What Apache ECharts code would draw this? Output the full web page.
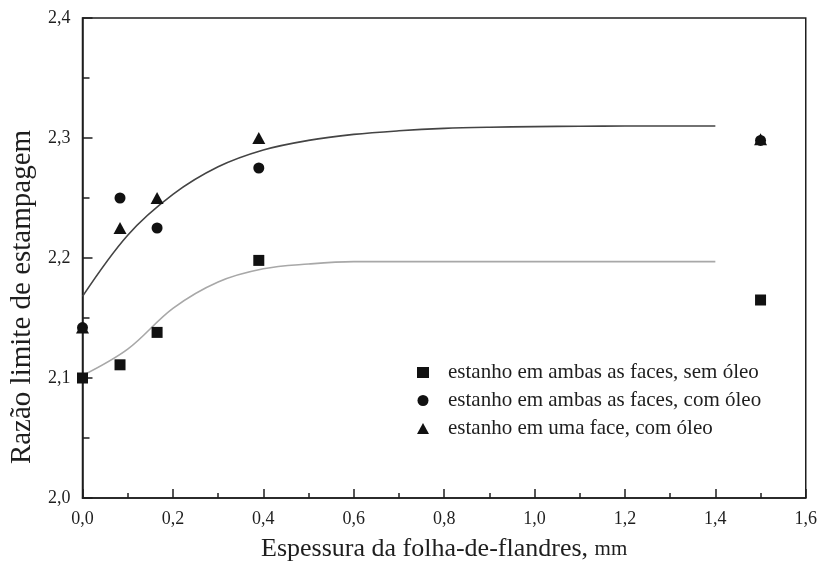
<!DOCTYPE html>
<html>
<head>
<meta charset="utf-8">
<script src="https://cdn.jsdelivr.net/npm/echarts@6/dist/echarts.min.js"></script>
<style>
  html, body { margin: 0; padding: 0; background: #fff; }
  #chart { width: 820px; height: 567px; }
</style>
</head>
<body>
<div id="chart"></div>
<script>
// Sheet thickness (mm) and limit drawing ratio measurements
const seriesNames = [
  'estanho em ambas as faces, sem óleo',
  'estanho em ambas as faces, com óleo',
  'estanho em uma face, com óleo'
];

const thicknessBoth = [0.0, 0.083, 0.165, 0.39, 1.5];
const ratioBothDry = [2.100, 2.111, 2.138, 2.198, 2.165];
const ratioBothOiled = [2.142, 2.250, 2.225, 2.275, 2.298];
const ratioOneOiled = [2.142, 2.225, 2.250, 2.300, 2.299];

// Fitted trend curves, sampled every 0.1 mm
const fitX = [0.0, 0.1, 0.2, 0.3, 0.4, 0.5, 0.6, 0.7, 0.8, 0.9, 1.0, 1.1, 1.2, 1.3, 1.4];
const fitUpperY = [2.168, 2.219, 2.253, 2.276, 2.290, 2.298, 2.303, 2.306, 2.308, 2.309, 2.3095, 2.3098, 2.310, 2.310, 2.310];
const fitLowerY = [2.102, 2.124, 2.158, 2.180, 2.191, 2.195, 2.197, 2.197, 2.197, 2.197, 2.197, 2.197, 2.197, 2.197, 2.197];

const xTicks = { min: 0, max: 1.6, interval: 0.2 };
const yTicks = { min: 2.0, max: 2.4, interval: 0.1 };

const pairs = (xs, ys) => xs.map((x, i) => [x, ys[i]]);
const comma = v => v.toFixed(1).replace('.', ',');

const FONT = '"Liberation Serif", "Times New Roman", serif';
const INK = '#1e1e1e';
const MARK = '#111111';

const chart = echarts.init(document.getElementById('chart'), null, { renderer: 'canvas' });

chart.setOption({
  animation: false,
  backgroundColor: '#ffffff',
  textStyle: { fontFamily: FONT, color: INK },
  grid: {
    left: 82.5, right: 14, top: 18, bottom: 65,
    show: true, borderColor: INK, borderWidth: 1.5, backgroundColor: 'transparent'
  },
  legend: {
    data: seriesNames,
    orient: 'vertical',
    left: 412, top: 357,
    itemWidth: 12, itemHeight: 11,
    itemGap: 7,
    selectedMode: false,
    textStyle: { fontFamily: FONT, fontSize: 21, color: INK, padding: [0, 0, 0, 14] }
  },
  xAxis: {
    type: 'value',
    min: xTicks.min, max: xTicks.max, interval: xTicks.interval,
    name: 'Espessura da folha-de-flandres, {s|mm}',
    nameLocation: 'middle', nameGap: 38,
    nameTextStyle: { fontFamily: FONT, fontSize: 26, color: INK, rich: { s: { fontFamily: FONT, fontSize: 21, color: INK } } },
    axisLine: { show: true, onZero: false, lineStyle: { color: INK, width: 1.5 } },
    axisTick: { show: true, inside: true, length: 9, lineStyle: { color: INK, width: 1.5 } },
    minorTick: { show: true, splitNumber: 2, length: 5, lineStyle: { color: INK, width: 1.5 } },
    splitLine: { show: false },
    axisLabel: { fontFamily: FONT, fontSize: 18, color: INK, margin: 12, formatter: comma }
  },
  yAxis: {
    type: 'value',
    min: yTicks.min, max: yTicks.max, interval: yTicks.interval,
    name: 'Razão limite de estampagem',
    nameLocation: 'middle', nameGap: 41,
    nameTextStyle: { fontFamily: FONT, fontSize: 29, color: INK, padding: [0, 78, 0, 0] },
    axisLine: { show: true, onZero: false, lineStyle: { color: INK, width: 1.5 } },
    axisTick: { show: true, inside: true, length: 10, lineStyle: { color: INK, width: 1.5 } },
    minorTick: { show: true, splitNumber: 2, length: 7, lineStyle: { color: INK, width: 1.5 } },
    splitLine: { show: false },
    axisLabel: { fontFamily: FONT, fontSize: 18, color: INK, margin: 12, formatter: comma }
  },
  series: [
    {
      type: 'line', name: 'fit-upper', data: pairs(fitX, fitUpperY),
      smooth: 0.35, showSymbol: false, silent: true,
      lineStyle: { color: '#444444', width: 1.6 }, z: 1
    },
    {
      type: 'line', name: 'fit-lower', data: pairs(fitX, fitLowerY),
      smooth: 0.35, showSymbol: false, silent: true,
      lineStyle: { color: '#a8a8a8', width: 1.6 }, z: 1
    },
    {
      type: 'scatter', name: seriesNames[0], data: pairs(thicknessBoth, ratioBothDry),
      symbol: 'rect', symbolSize: 11, clip: false,
      itemStyle: { color: MARK, opacity: 1 }, z: 3
    },
    {
      type: 'scatter', name: seriesNames[1], data: pairs(thicknessBoth, ratioBothOiled),
      symbol: 'circle', symbolSize: 11, clip: false,
      itemStyle: { color: MARK, opacity: 1 }, z: 3
    },
    {
      type: 'scatter', name: seriesNames[2], data: pairs(thicknessBoth, ratioOneOiled),
      symbol: 'triangle', symbolSize: [13, 12], clip: false,
      itemStyle: { color: MARK, opacity: 1 }, z: 4
    }
  ]
});
</script>
</body>
</html>
